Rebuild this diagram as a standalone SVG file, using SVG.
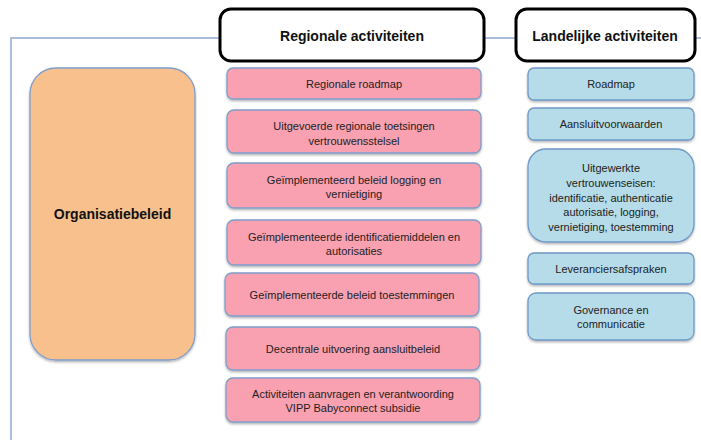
<svg xmlns="http://www.w3.org/2000/svg" width="701" height="440" viewBox="0 0 701 440">
<defs>
<filter id="sh" x="-10%" y="-10%" width="120%" height="130%">
<feDropShadow dx="0" dy="1.5" stdDeviation="1.2" flood-color="#000" flood-opacity="0.3"/>
</filter>
</defs>
<style>
.t{font-family:"Liberation Sans",Arial,sans-serif;font-size:11px;fill:#222;text-anchor:middle}
.h{font-family:"Liberation Sans",Arial,sans-serif;font-size:14px;font-weight:bold;fill:#111;text-anchor:middle}
.pink{fill:#F9A0B1;stroke:#7F9DCB;stroke-width:1.3;filter:url(#sh)}
.blue{fill:#B5DCE8;stroke:#6F98C8;stroke-width:1.3;filter:url(#sh)}
.hdr{fill:#fff;stroke:#000;stroke-width:3}
</style>
<rect width="701" height="440" fill="#fff"/>
<g id="connectors">
<path d="M11 440 V38 H701" fill="none" stroke="#8EABD6" stroke-width="1.5"/>
</g>
<g id="organisatiebeleid">
<rect x="30" y="68" width="165" height="292" rx="26" fill="#F7C08D" stroke="#7F9DCB" stroke-width="1.3" filter="url(#sh)"/>
<text class="h" x="112.5" y="219">Organisatiebeleid</text>
</g>
<g id="hdr-regionaal">
<rect class="hdr" x="220" y="9" width="264" height="52" rx="11"/>
<text class="h" x="352" y="41">Regionale activiteiten</text>
</g>
<g id="hdr-landelijk">
<rect class="hdr" x="516" y="9" width="179" height="52" rx="11"/>
<text class="h" x="605" y="41">Landelijke activiteiten</text>
</g>
<g id="r1"><rect class="pink" x="227" y="68" width="254" height="31" rx="6"/><text class="t" x="354" y="88">Regionale roadmap</text></g>
<g id="r2"><rect class="pink" x="227" y="110" width="254" height="43" rx="7"/><text class="t" x="354" y="130">Uitgevoerde regionale toetsingen</text><text class="t" x="354" y="145">vertrouwensstelsel</text></g>
<g id="r3"><rect class="pink" x="227" y="163" width="254" height="45" rx="7"/><text class="t" x="354" y="184">Geïmplementeerd beleid logging en</text><text class="t" x="354" y="198">vernietiging</text></g>
<g id="r4"><rect class="pink" x="227" y="220" width="254" height="45" rx="7"/><text class="t" x="354" y="241">Geïmplementeerde identificatiemiddelen en</text><text class="t" x="354" y="255">autorisaties</text></g>
<g id="r5"><rect class="pink" x="225" y="273" width="254" height="43" rx="7"/><text class="t" x="352" y="299">Geïmplementeerde beleid toestemmingen</text></g>
<g id="r6"><rect class="pink" x="226" y="327" width="254" height="43" rx="7"/><text class="t" x="353" y="353">Decentrale uitvoering aansluitbeleid</text></g>
<g id="r7"><rect class="pink" x="226" y="378" width="254" height="44" rx="7"/><text class="t" x="353" y="398">Activiteiten aanvragen en verantwoording</text><text class="t" x="353" y="412">VIPP Babyconnect subsidie</text></g>
<g id="l1"><rect class="blue" x="528" y="68" width="166" height="32" rx="6"/><text class="t" x="611" y="88">Roadmap</text></g>
<g id="l2"><rect class="blue" x="528" y="108" width="166" height="32" rx="6"/><text class="t" x="611" y="128">Aansluitvoorwaarden</text></g>
<g id="l3"><rect class="blue" x="528" y="149" width="166" height="93" rx="18"/><text class="t" x="611" y="172">Uitgewerkte</text><text class="t" x="611" y="187">vertrouwenseisen:</text><text class="t" x="611" y="202">identificatie, authenticatie</text><text class="t" x="611" y="216">autorisatie, logging,</text><text class="t" x="611" y="231">vernietiging, toestemming</text></g>
<g id="l4"><rect class="blue" x="528" y="253" width="166" height="31" rx="6"/><text class="t" x="611" y="273">Leveranciersafspraken</text></g>
<g id="l5"><rect class="blue" x="528" y="293" width="166" height="47" rx="8"/><text class="t" x="611" y="314">Governance en</text><text class="t" x="611" y="328">communicatie</text></g>
</svg>
